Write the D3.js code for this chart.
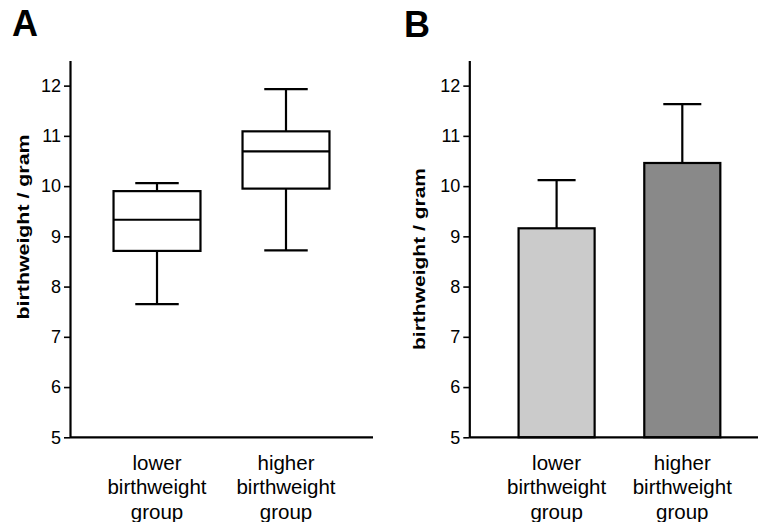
<!DOCTYPE html>
<html><head><meta charset="utf-8">
<script src="https://cdn.jsdelivr.net/npm/d3@7"></script>
<style>
html,body{margin:0;padding:0;background:#fff;}
svg{display:block;font-family:"Liberation Sans",Arial,sans-serif;}
</style></head>
<body>
<svg id="c" width="758" height="522"></svg>
<script>
// ---- data ----
const categories = ["lower", "higher"];
const categoryLabels = [["lower","birthweight","group"],["higher","birthweight","group"]];
const boxMin    = [7.65, 8.72];
const boxQ1     = [8.71, 9.95];
const boxMedian = [9.33, 10.69];
const boxQ3     = [9.90, 11.09];
const boxMax    = [10.06, 11.93];
const barMean   = [9.16, 10.46];
const barSD     = [0.96, 1.17];
const yTicks    = [5, 6, 7, 8, 9, 10, 11, 12];
const barColors = ["#cbcbcb", "#898989"];
const yTitle = "birthweight / gram";
const panelLetters = ["A", "B"];

const svg = d3.select("#c");
const y = d3.scaleLinear().domain([5, 12.5]).range([437.3, 60.5]);

function drawAxes(g, x, x0, x1) {
  const ax = g.append("g").attr("transform", `translate(${x0},0)`)
    .call(d3.axisLeft(y).tickValues(yTicks).tickSize(6).tickSizeOuter(0).tickPadding(3).tickFormat(d3.format("d")));
  ax.select(".domain").attr("stroke", "#000").attr("stroke-width", 2.2);
  ax.selectAll(".tick line").attr("stroke", "#000").attr("stroke-width", 1.6);
  ax.selectAll(".tick text").attr("font-size", 18).attr("fill", "#000")
    .attr("font-family", "Liberation Sans, Arial, sans-serif");
  g.append("line").attr("x1", x0).attr("x2", x1).attr("y1", y(5)).attr("y2", y(5))
    .attr("stroke", "#000").attr("stroke-width", 2.2);
  // category labels
  categories.forEach((c, i) => {
    const t = g.append("text").attr("text-anchor", "middle").attr("font-size", 20.5).attr("fill", "#000");
    categoryLabels[i].forEach((line, j) => {
      t.append("tspan").attr("x", x(c) + x.bandwidth() / 2).attr("y", 469.5 + j * 24.5).text(line);
    });
  });
}

function yLabel(g, bx, cy, len) {
  g.append("text").attr("transform", `translate(${bx},${cy}) rotate(-90)`)
    .attr("text-anchor", "middle").attr("font-size", 16.5).attr("font-weight", "bold")
    .attr("textLength", len).attr("lengthAdjust", "spacingAndGlyphs").text(yTitle);
}

// ---- Panel A: box plot ----
const gA = svg.append("g");
const xA = d3.scaleBand().domain(categories).range([70, 373]).paddingInner(0.326).paddingOuter(0.3375);
categories.forEach((c, i) => {
  const cx = xA(c) + xA.bandwidth() / 2, bw = xA.bandwidth(), cap = bw / 2;
  const L = (x1, y1, x2, y2) => gA.append("line").attr("x1", x1).attr("y1", y1).attr("x2", x2).attr("y2", y2)
      .attr("stroke", "#000").attr("stroke-width", 2.2);
  L(cx, y(boxMax[i]), cx, y(boxQ3[i]));
  L(cx, y(boxQ1[i]), cx, y(boxMin[i]));
  L(cx - cap / 2, y(boxMax[i]), cx + cap / 2, y(boxMax[i]));
  L(cx - cap / 2, y(boxMin[i]), cx + cap / 2, y(boxMin[i]));
  gA.append("rect").attr("x", xA(c)).attr("width", bw).attr("y", y(boxQ3[i]))
    .attr("height", y(boxQ1[i]) - y(boxQ3[i])).attr("fill", "#fff").attr("stroke", "#000").attr("stroke-width", 2.2);
  L(xA(c), y(boxMedian[i]), xA(c) + bw, y(boxMedian[i]));
});
drawAxes(gA, xA, 70, 373);
yLabel(gA, 28.5, 227, 185);
gA.append("text").attr("x", 12).attr("y", 36).attr("font-size", 36).attr("font-weight", "bold").text(panelLetters[0]);

// ---- Panel B: bar chart ----
const gB = svg.append("g");
const xB = d3.scaleBand().domain(categories).range([469.3, 769.6]).paddingInner(0.395).paddingOuter(0.392);
categories.forEach((c, i) => {
  const cx = xB(c) + xB.bandwidth() / 2, cap = xB.bandwidth() / 2;
  gB.append("line").attr("x1", cx).attr("x2", cx).attr("y1", y(barMean[i])).attr("y2", y(barMean[i] + barSD[i]))
    .attr("stroke", "#000").attr("stroke-width", 2.2);
  gB.append("line").attr("x1", cx - cap / 2).attr("x2", cx + cap / 2)
    .attr("y1", y(barMean[i] + barSD[i])).attr("y2", y(barMean[i] + barSD[i]))
    .attr("stroke", "#000").attr("stroke-width", 2.2);
  gB.append("rect").attr("x", xB(c)).attr("width", xB.bandwidth()).attr("y", y(barMean[i]))
    .attr("height", y(5) - y(barMean[i])).attr("fill", barColors[i]).attr("stroke", "#000").attr("stroke-width", 2.2);
});
drawAxes(gB, xB, 469.3, 758);
yLabel(gB, 424.5, 259, 182);
gB.append("text").attr("x", 404).attr("y", 37).attr("font-size", 36).attr("font-weight", "bold").text(panelLetters[1]);
</script>
</body></html>
